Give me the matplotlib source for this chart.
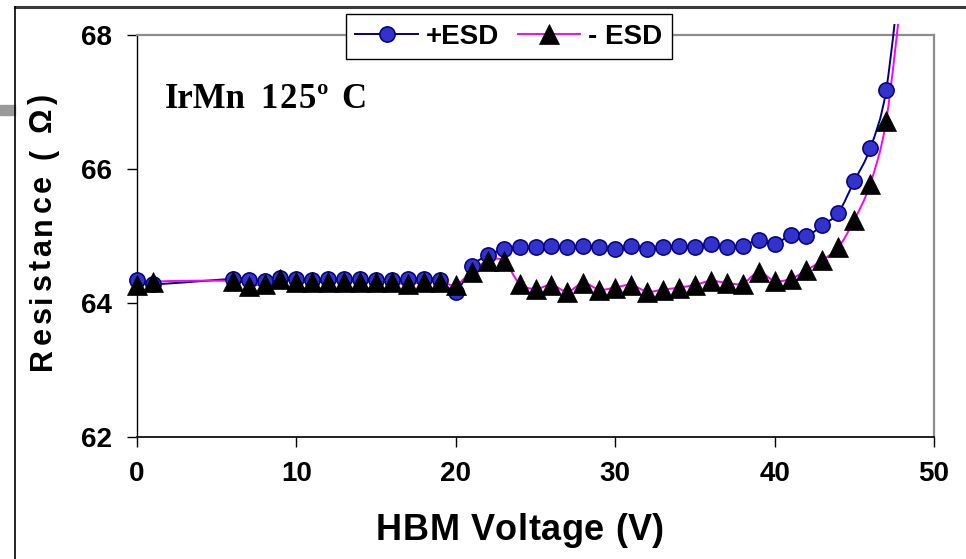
import matplotlib
matplotlib.use('Agg')
import matplotlib.pyplot as plt
from matplotlib.path import Path
from matplotlib.patches import PathPatch, Rectangle
from matplotlib.lines import Line2D
from matplotlib.font_manager import FontProperties, findfont
from matplotlib.ft2font import FT2Font

# ---------------- data ----------------
voltage = [0, 1, 6, 7, 8, 9, 10, 11, 12, 13, 14, 15, 16, 17, 18, 19, 20, 21, 22, 23,
           24, 25, 26, 27, 28, 29, 30, 31, 32, 33, 34, 35, 36, 37, 38, 39, 40, 41,
           42, 43, 44, 45, 46, 47, 48]
res_pos = [64.34, 64.28, 64.36, 64.35, 64.33, 64.37, 64.36, 64.35, 64.36, 64.36,
           64.36, 64.35, 64.34, 64.36, 64.36, 64.35, 64.17, 64.55, 64.71, 64.80,
           64.83, 64.83, 64.85, 64.83, 64.85, 64.83, 64.80, 64.85, 64.80, 64.83,
           64.85, 64.83, 64.88, 64.83, 64.85, 64.94, 64.88, 65.01, 65.00, 65.16,
           65.35, 65.82, 66.31, 67.18, 69.20]
res_neg = [64.27, 64.32, 64.33, 64.26, 64.29, 64.36, 64.32, 64.31, 64.32, 64.32,
           64.32, 64.32, 64.31, 64.28, 64.32, 64.32, 64.27, 64.47, 64.63, 64.63,
           64.29, 64.21, 64.27, 64.17, 64.30, 64.20, 64.23, 64.27, 64.17, 64.20,
           64.23, 64.27, 64.33, 64.30, 64.29, 64.46, 64.33, 64.36, 64.49, 64.64,
           64.83, 65.24, 65.78, 66.72, 68.70]
labels = ['+ESD', '- ESD']
x_ticks = [0, 10, 20, 30, 40, 50]
y_ticks = [62, 64, 66, 68]
annotation_material = 'IrMn'
annotation_temp = '125\u00ba C'
xlabel = 'HBM Voltage (V)'
ylabel = 'Resistance ( \u03a9)'

# ---------------- figure ----------------
W, H = 966, 559
fig = plt.figure(figsize=(W / 100, H / 100), dpi=100)
fig.patch.set_facecolor('white')
ax = fig.add_axes([137 / W, 1 - 437 / H, (934 - 137) / W, (437 - 35) / H])
ax.set_xlim(0, 50)
ax.set_ylim(62, 68)

SANS = 'Liberation Sans'
SERIF = 'Liberation Serif'
tick_fp = FontProperties(family=SANS, weight='bold', size=20)

BLUE_LINE = '#000080'
BLUE_FILL = '#3333CC'
PINK = '#FF00FF'


def smooth_path(xs, ys):
    pts = list(zip(xs, ys))
    verts = [pts[0]]
    codes = [Path.MOVETO]
    n = len(pts)
    for i in range(n - 1):
        p0 = pts[i - 1] if i > 0 else pts[i]
        p1 = pts[i]
        p2 = pts[i + 1]
        p3 = pts[i + 2] if i + 2 < n else pts[i + 1]
        c1 = (p1[0] + (p2[0] - p0[0]) / 6, p1[1] + (p2[1] - p0[1]) / 6)
        c2 = (p2[0] - (p3[0] - p1[0]) / 6, p2[1] - (p3[1] - p1[1]) / 6)
        verts += [c1, c2, p2]
        codes += [Path.CURVE4] * 3
    return Path(verts, codes)


def add_line(xs, ys, color):
    patch = PathPatch(smooth_path(xs, ys), facecolor='none', edgecolor=color,
                      lw=1.4, transform=ax.transData, zorder=3)
    ax.add_patch(patch)
    clip = Rectangle((0, 0), 1, 1 + 11 / 402, transform=ax.transAxes,
                     facecolor='none', edgecolor='none')
    patch.set_clip_path(clip)


# + ESD series
add_line(voltage, res_pos, BLUE_LINE)
ax.plot(voltage[:-1], res_pos[:-1], ls='none', marker='o', ms=11.0,
        mfc=BLUE_FILL, mec=BLUE_LINE, mew=1.1, clip_on=False, zorder=4)
# - ESD series
add_line(voltage, res_neg, PINK)
ax.plot(voltage[:-1], res_neg[:-1], ls='none', marker='^', ms=14.8,
        mfc='black', mec='black', mew=0.5, clip_on=False, zorder=6)

# axes styling
ax.set_xticks(x_ticks)
ax.set_yticks(y_ticks)
ax.set_xticklabels([str(v) for v in x_ticks], fontproperties=tick_fp)
ax.set_yticklabels([str(v) for v in y_ticks], fontproperties=tick_fp)
ax.tick_params(axis='x', direction='out', length=7, width=1, pad=10, colors='black')
ax.tick_params(axis='y', direction='out', length=7, width=1, pad=11, colors='black')
for s in ('top', 'right'):
    ax.spines[s].set_color('#8c8c8c')
    ax.spines[s].set_linewidth(1.6)
ax.spines['left'].set_color('black')
ax.spines['left'].set_linewidth(1.0)
ax.spines['bottom'].set_color('#202020')
ax.spines['bottom'].set_linewidth(1.4)


# letter-spaced text helper (characters are real text objects)
def spaced_text(x_px, y_px, s, fp, spacing, rotation=0, align='center'):
    f = FT2Font(findfont(fp))
    f.set_size(fp.get_size_in_points(), 100)
    adv = [f.load_char(ord(c)).linearHoriAdvance / 65536 for c in s]
    width = sum(adv) + spacing * (len(s) - 1)
    pos = -width / 2 if align == 'center' else 0
    for c, a in zip(s, adv):
        if c != ' ':
            if rotation == 0:
                fig.text((x_px + pos) / W, 1 - y_px / H, c, fontproperties=fp,
                         ha='left', va='baseline')
            else:
                fig.text(x_px / W, 1 - (y_px - pos) / H, c, fontproperties=fp,
                         rotation=90, rotation_mode='anchor',
                         ha='left', va='baseline')
        pos += a + spacing


spaced_text(520, 540, xlabel, FontProperties(family=SANS, weight='bold', size=26), 0.5)
spaced_text(51, 232, ylabel, FontProperties(family=SANS, weight='bold', size=22), 3.8,
            rotation=90)

# annotation
ann_fp = FontProperties(family=SERIF, weight='bold', size=25)
fig.text(165 / W, 1 - 108 / H, annotation_material, fontproperties=ann_fp,
         ha='left', va='baseline')
spaced_text(260, 108, annotation_temp, ann_fp, 1.7, align='left')

# legend
h1 = Line2D([], [], color=BLUE_LINE, lw=1.4, marker='o', ms=11.0,
            mfc=BLUE_FILL, mec=BLUE_LINE, mew=1.1)
h2 = Line2D([], [], color=PINK, lw=1.4, marker='^', ms=14.8,
            mfc='black', mec='black', mew=0.5)
leg = fig.legend([h1, h2], labels, loc='center', bbox_to_anchor=(509 / W, 1 - 36.5 / H),
                 ncol=2, prop=FontProperties(family=SANS, weight='bold', size=20),
                 handlelength=2.25, handletextpad=0.3, columnspacing=0.65,
                 borderpad=0.33, borderaxespad=0, fancybox=False, framealpha=1,
                 edgecolor='black')
leg.get_frame().set_linewidth(1.0)
leg.set_zorder(10)

# outer frame remnants
fig.add_artist(Line2D([15 / W, 1], [1 - 7 / H, 1 - 7 / H], color='#3a3a3a', lw=2.2,
                      transform=fig.transFigure))
fig.add_artist(Line2D([15 / W, 15 / W], [0, 1 - 7 / H], color='black', lw=1.2,
                      transform=fig.transFigure))
fig.add_artist(Rectangle((0, 1 - 115 / H), 15 / W, 10 / H, color='#9a9a9a',
                         transform=fig.transFigure))

fig.savefig('out.png', dpi=100)
